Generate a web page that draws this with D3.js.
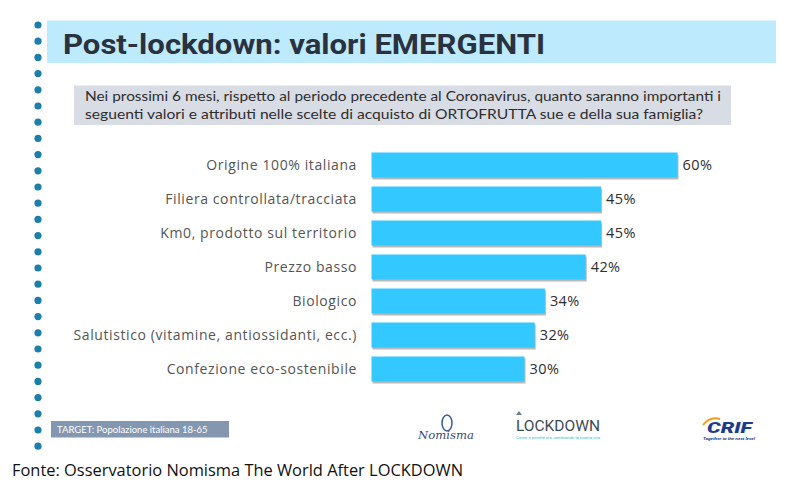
<!DOCTYPE html>
<html>
<head>
<meta charset="utf-8">
<script src="https://cdn.jsdelivr.net/npm/d3@7"></script>
<style>
  body { margin: 0; background: #fff; }
  svg { display: block; }
</style>
</head>
<body>
<div id="chart"></div>
<script>
var categories = [
  "Origine 100% italiana",
  "Filiera controllata/tracciata",
  "Km0, prodotto sul territorio",
  "Prezzo basso",
  "Biologico",
  "Salutistico (vitamine, antiossidanti, ecc.)",
  "Confezione eco-sostenibile"
];
var values = [60, 45, 45, 42, 34, 32, 30];

var title = "Post-lockdown: valori EMERGENTI";
var question = [
  "Nei prossimi 6 mesi, rispetto al periodo precedente al Coronavirus, quanto saranno importanti i",
  "seguenti valori e attributi nelle scelte di acquisto di ORTOFRUTTA  sue e della sua famiglia?"
];
var questionWidths = [636, 618];
var target = "TARGET: Popolazione italiana 18-65";
var source = "Fonte: Osservatorio Nomisma The World After LOCKDOWN";

var svgWidth = 810;
var svgHeight = 500;

var svg = d3.select("#chart")
  .append("svg")
  .attr("width", svgWidth)
  .attr("height", svgHeight);

// dotted left border
var dots = d3.range(27);
svg.selectAll("circle.dot")
  .data(dots)
  .enter()
  .append("circle")
  .attr("class", "dot")
  .attr("cx", 38)
  .attr("cy", d => 25 + d * 16.2)
  .attr("r", 3.6)
  .attr("fill", "#1b7fa9");

// title band
svg.append("rect")
  .attr("x", 47).attr("y", 20.5)
  .attr("width", 729).attr("height", 42.5)
  .attr("fill", "#bdebfd");

svg.append("text")
  .attr("x", 63).attr("y", 54)
  .attr("font-family", "Roboto, sans-serif")
  .attr("font-weight", 700)
  .attr("font-size", 28)
  .attr("fill", "#2a3240")
  .attr("textLength", 482)
  .attr("lengthAdjust", "spacingAndGlyphs")
  .text(title);

// question box
svg.append("rect")
  .attr("x", 74).attr("y", 85.5)
  .attr("width", 657).attr("height", 39.5)
  .attr("fill", "#d8dce5");

svg.selectAll("text.question")
  .data(question)
  .enter()
  .append("text")
  .attr("class", "question")
  .attr("x", 85)
  .attr("y", (d, i) => 101 + i * 18)
  .attr("font-family", "Lato, sans-serif")
  .attr("font-size", 13.5)
  .attr("fill", "#2e2e2e")
  .attr("textLength", (d, i) => questionWidths[i])
  .attr("lengthAdjust", "spacingAndGlyphs")
  .text(d => d);

// bars
var x = d3.scaleLinear()
  .domain([0, 60])
  .range([371.5, 677.5]);

var y = d3.scaleBand()
  .domain(categories)
  .range([148, 148 + categories.length * 34])
  .paddingInner(9 / 34)
  .paddingOuter(9 / 68);

var chartGroup = svg.append("g");

// shadow
chartGroup.selectAll("rect.shadow")
  .data(values)
  .enter()
  .append("rect")
  .attr("class", "shadow")
  .attr("x", x(0) + 1)
  .attr("y", (d, i) => y(categories[i]) + 2)
  .attr("width", d => x(d) - x(0))
  .attr("height", y.bandwidth())
  .attr("fill", "#b9b9b9");

chartGroup.selectAll("rect.bar")
  .data(values)
  .enter()
  .append("rect")
  .attr("class", "bar")
  .attr("x", x(0))
  .attr("y", (d, i) => y(categories[i]))
  .attr("width", d => x(d) - x(0))
  .attr("height", y.bandwidth())
  .attr("fill", "#33c8ff");

chartGroup.selectAll("text.value")
  .data(values)
  .enter()
  .append("text")
  .attr("class", "value")
  .attr("x", d => x(d) + 5)
  .attr("y", (d, i) => y(categories[i]) + y.bandwidth() / 2 + 5)
  .attr("font-family", "Open Sans, sans-serif")
  .attr("font-size", 14.5)
  .attr("letter-spacing", 0.4)
  .attr("fill", "#2e2e2e")
  .text(d => d + "%");

chartGroup.selectAll("text.cat")
  .data(categories)
  .enter()
  .append("text")
  .attr("class", "cat")
  .attr("x", 357)
  .attr("y", d => y(d) + y.bandwidth() / 2 + 5)
  .attr("text-anchor", "end")
  .attr("font-family", "Open Sans, sans-serif")
  .attr("font-size", 14)
  .attr("letter-spacing", 0.6)
  .attr("fill", "#555")
  .text(d => d);

// target box
svg.append("rect")
  .attr("x", 51).attr("y", 421)
  .attr("width", 178).attr("height", 16.5)
  .attr("fill", "#8397b1");

svg.append("text")
  .attr("x", 57).attr("y", 432.5)
  .attr("font-family", "Lato, sans-serif")
  .attr("font-size", 9.5)
  .attr("fill", "#fff")
  .text(target);

// logos (approximated)
var logos = svg.append("g");

logos.append("ellipse")
  .attr("cx", 447).attr("cy", 423)
  .attr("rx", 5).attr("ry", 8)
  .attr("fill", "none")
  .attr("stroke", "#3a5a96")
  .attr("stroke-width", 1.5);

logos.append("text")
  .attr("x", 418).attr("y", 439)
  .attr("font-family", "DejaVu Serif, serif")
  .attr("font-style", "italic")
  .attr("font-size", 11)
  .attr("fill", "#3a4a7a")
  .attr("textLength", 56)
  .attr("lengthAdjust", "spacingAndGlyphs")
  .text("Nomisma");

logos.append("path")
  .attr("d", "M516,415 L519,411 L522,415 Z")
  .attr("fill", "#6b7c8e");

logos.append("text")
  .attr("x", 516).attr("y", 431)
  .attr("font-family", "Roboto, sans-serif")
  .attr("font-size", 15)
  .attr("fill", "#3e4a56")
  .attr("textLength", 84)
  .attr("lengthAdjust", "spacingAndGlyphs")
  .text("LOCKDOWN");

logos.append("text")
  .attr("x", 516).attr("y", 438.5)
  .attr("font-family", "Roboto, sans-serif")
  .attr("font-size", 4)
  .attr("fill", "#38bde0")
  .attr("textLength", 84)
  .attr("lengthAdjust", "spacingAndGlyphs")
  .text("Come e perché sta cambiando la nostra vita");

logos.append("path")
  .attr("d", "M703,425 Q710,416 720,419")
  .attr("fill", "none")
  .attr("stroke", "#f39a1e")
  .attr("stroke-width", 2);

logos.append("text")
  .attr("x", 707).attr("y", 433)
  .attr("font-family", "Roboto, sans-serif")
  .attr("font-weight", 900)
  .attr("font-style", "italic")
  .attr("font-size", 15)
  .attr("fill", "#1d3c8c")
  .attr("textLength", 45)
  .attr("lengthAdjust", "spacingAndGlyphs")
  .text("CRIF");

logos.append("text")
  .attr("x", 703).attr("y", 440)
  .attr("font-family", "Roboto, sans-serif")
  .attr("font-style", "italic")
  .attr("font-weight", 700)
  .attr("font-size", 4)
  .attr("fill", "#1d3c8c")
  .attr("textLength", 52)
  .attr("lengthAdjust", "spacingAndGlyphs")
  .text("Together to the next level");

// source
svg.append("text")
  .attr("x", 12).attr("y", 476)
  .attr("font-family", "Open Sans, sans-serif")
  .attr("font-size", 15.5)
  .attr("fill", "#111")
  .attr("textLength", 451)
  .attr("lengthAdjust", "spacingAndGlyphs")
  .text(source);
</script>
</body>
</html>
